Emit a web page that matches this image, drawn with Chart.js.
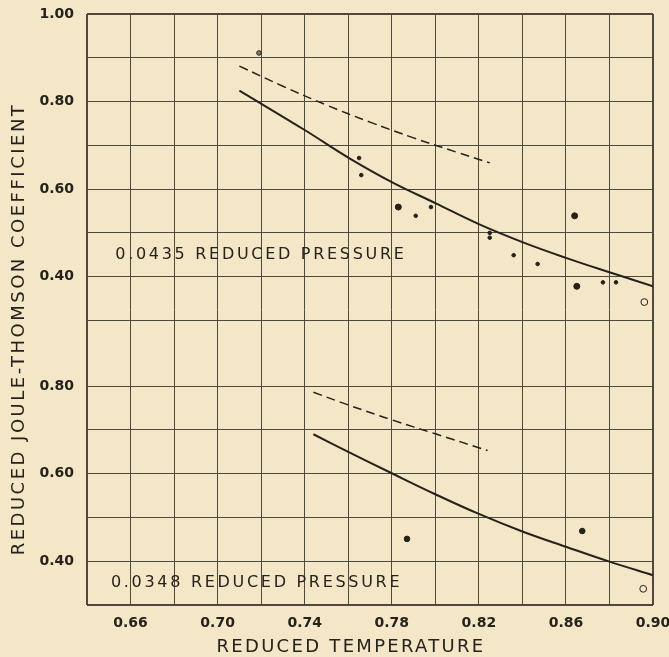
<!DOCTYPE html>
<html>
<head>
<meta charset="utf-8">
<script src="https://cdn.jsdelivr.net/npm/chart.js@4/dist/chart.umd.min.js"></script>
<style>
  html, body { margin: 0; padding: 0; background: #f4e7c8; }
  #wrap { width: 669px; height: 657px; position: relative; }
</style>
</head>
<body>
<div id="wrap"><canvas id="chart"></canvas></div>
<script>
// reduced temperature range
const xMin = 0.64
const xMax = 0.90

// upper panel: 0.0435 reduced pressure
const topSolidT = [0.710, 0.740, 0.760, 0.780, 0.800, 0.820, 0.840, 0.860, 0.880, 0.900]
const topSolidMu = [0.825, 0.735, 0.672, 0.616, 0.568, 0.520, 0.479, 0.443, 0.410, 0.378]
const topDashT = [0.710, 0.730, 0.750, 0.770, 0.790, 0.810, 0.825]
const topDashMu = [0.881, 0.835, 0.792, 0.753, 0.717, 0.684, 0.660]
const topBigT = [0.783, 0.864, 0.865]
const topBigMu = [0.559, 0.539, 0.378]
const topSmallT = [0.765, 0.766, 0.791, 0.798, 0.825, 0.825, 0.836, 0.847, 0.877, 0.883]
const topSmallMu = [0.671, 0.632, 0.539, 0.559, 0.500, 0.489, 0.449, 0.429, 0.387, 0.387]
const topRingT = [0.719]
const topRingMu = [0.911]
const topOpenT = [0.896]
const topOpenMu = [0.342]

// lower panel: 0.0348 reduced pressure
const botSolidT = [0.744, 0.760, 0.780, 0.800, 0.820, 0.840, 0.860, 0.880, 0.900]
const botSolidMu = [0.690, 0.650, 0.601, 0.553, 0.508, 0.468, 0.433, 0.399, 0.368]
const botDashT = [0.744, 0.760, 0.780, 0.800, 0.824]
const botDashMu = [0.786, 0.757, 0.723, 0.691, 0.653]
const botBigT = [0.787, 0.8675]
const botBigMu = [0.451, 0.469]
const botOpenT = [0.8955]
const botOpenMu = [0.337]

// the lower panel sits under the upper one on a shared axis
const lowerShift = -0.65
const topTicks = [1.0, 0.9, 0.8, 0.7, 0.6, 0.5, 0.4, 0.3]
const botTicks = [0.8, 0.7, 0.6, 0.5, 0.4, 0.3]
const topLabels = [1.0, 0.8, 0.6, 0.4]
const botLabels = [0.8, 0.6, 0.4]

const r2 = (v) => Math.round(v * 100)
const yTicks = topTicks.concat(botTicks.map((v) => v + lowerShift))
const yLabelMap = {}
topLabels.forEach((v) => { yLabelMap[r2(v)] = v.toFixed(2) })
botLabels.forEach((v) => { yLabelMap[r2(v + lowerShift)] = v.toFixed(2) })

const pts = (xs, ys, shift = 0) => xs.map((x, i) => ({ x: x, y: ys[i] + shift }))

const ink = '#26221b'
const gridInk = '#4f483c'
const font = 'DejaVu Sans'

const lineDs = (data, dashed) => ({
	type: 'line',
	data: data,
	borderColor: ink,
	borderWidth: dashed ? 1.5 : 2,
	borderDash: dashed ? [9, 5] : [],
	pointRadius: 0,
	tension: 0.4,
	fill: false,
})
const dotDs = (data, r, fillCol) => ({
	type: 'scatter',
	data: data,
	pointRadius: r,
	pointBackgroundColor: fillCol,
	pointBorderColor: ink,
	pointBorderWidth: 1,
})

const decor = {
	id: 'decor',
	beforeDraw(chart) {
		const { ctx, width, height } = chart
		ctx.save()
		ctx.fillStyle = '#f4e7c8'
		ctx.fillRect(0, 0, width, height)
		ctx.restore()
	},
	afterDraw(chart) {
		const { ctx, chartArea, scales } = chart
		ctx.save()
		ctx.fillStyle = ink
		ctx.textBaseline = 'middle'
		// pressure notes
		ctx.font = '16px "' + font + '"'
		ctx.letterSpacing = '2.7px'
		ctx.textAlign = 'left'
		ctx.fillText('0.0435 REDUCED PRESSURE', scales.x.getPixelForValue(0.653), scales.y.getPixelForValue(0.449))
		ctx.fillText('0.0348 REDUCED PRESSURE', scales.x.getPixelForValue(0.651), scales.y.getPixelForValue(0.35 + lowerShift))
		// axis titles
		ctx.font = '18px "' + font + '"'
		ctx.letterSpacing = '2.3px'
		ctx.textAlign = 'center'
		ctx.fillText('REDUCED TEMPERATURE', chartArea.left + 264, 647)
		ctx.translate(19, chartArea.top + 315)
		ctx.rotate(-Math.PI / 2)
		ctx.letterSpacing = '2.5px'
		ctx.fillText('REDUCED JOULE-THOMSON COEFFICIENT', 0, 0)
		ctx.restore()
	},
}

const edgeWidth = (c) => {
	const n = c.scale.ticks.length
	return c.index === 0 || c.index === n - 1 ? 2 : 1
}

new Chart(document.getElementById('chart'), {
	type: 'scatter',
	data: {
		datasets: [
			lineDs(pts(topSolidT, topSolidMu), false),
			lineDs(pts(topDashT, topDashMu), true),
			dotDs(pts(topBigT, topBigMu), 3, ink),
			dotDs(pts(topSmallT, topSmallMu), 1.8, ink),
			dotDs(pts(topRingT, topRingMu), 2.3, '#857c6c'),
			dotDs(pts(topOpenT, topOpenMu), 3.4, 'rgba(0,0,0,0)'),
			lineDs(pts(botSolidT, botSolidMu, lowerShift), false),
			lineDs(pts(botDashT, botDashMu, lowerShift), true),
			dotDs(pts(botBigT, botBigMu, lowerShift), 2.8, ink),
			dotDs(pts(botOpenT, botOpenMu, lowerShift), 3.4, 'rgba(0,0,0,0)'),
		],
	},
	options: {
		responsive: true,
		maintainAspectRatio: false,
		animation: false,
		layout: { padding: { top: 14, right: 16, left: 0, bottom: 0 } },
		plugins: {
			legend: { display: false },
			tooltip: { enabled: false },
		},
		scales: {
			x: {
				type: 'linear',
				min: xMin,
				max: xMax,
				afterFit: (scale) => {
					scale.height = 52
					scale.paddingLeft = 0
					scale.paddingRight = 0
				},
				grid: { color: gridInk, lineWidth: edgeWidth, drawTicks: false },
				border: { display: false },
				ticks: {
					stepSize: 0.02,
					autoSkip: false,
					maxRotation: 0,
					padding: 10,
					color: ink,
					font: { family: font, size: 14, weight: 'bold' },
					callback: (v) => (r2(v) % 4 === 2 ? v.toFixed(2) : ''),
				},
			},
			y: {
				type: 'linear',
				min: -0.35,
				max: 1.0,
				afterFit: (scale) => {
					scale.width = 87
					scale.paddingTop = 0
					scale.paddingBottom = 0
				},
				afterBuildTicks: (scale) => { scale.ticks = yTicks.map((v) => ({ value: v })) },
				grid: { color: gridInk, lineWidth: edgeWidth, drawTicks: false },
				border: { display: false },
				ticks: {
					autoSkip: false,
					padding: 13,
					color: ink,
					font: { family: font, size: 14, weight: 'bold' },
					callback: (v) => yLabelMap[r2(v)] || '',
				},
			},
		},
	},
	plugins: [decor],
})
</script>
</body>
</html>
